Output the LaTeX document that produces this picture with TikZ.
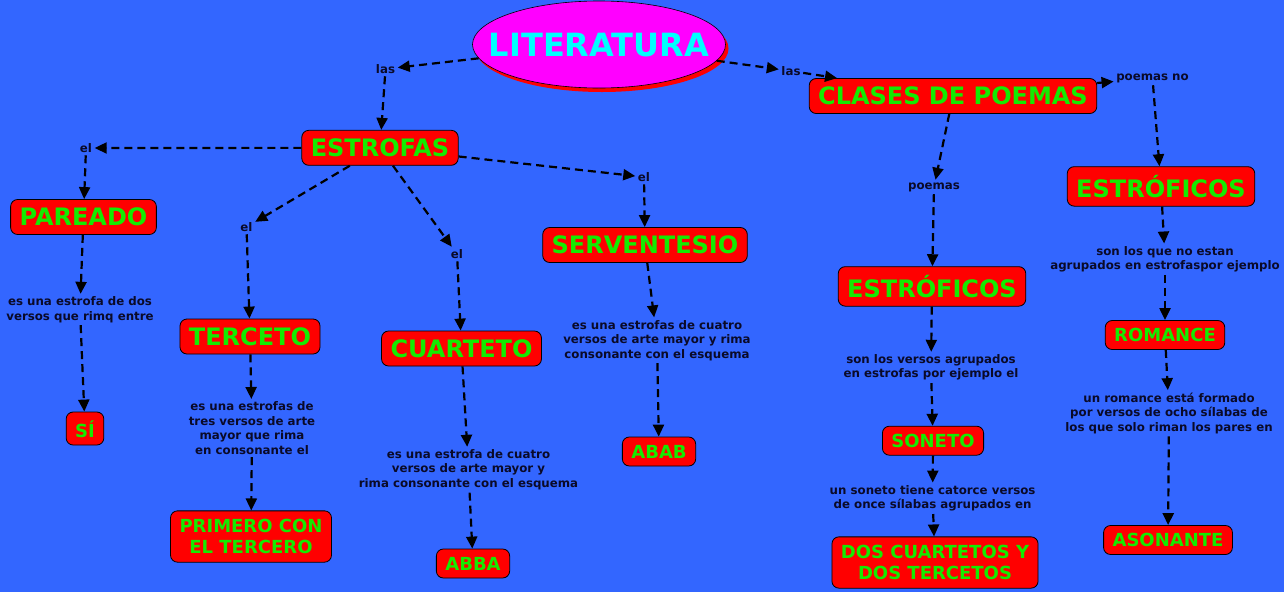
\documentclass[tikz,border=0pt]{standalone}
\usepackage{fontspec}
\setmainfont{DejaVu Sans}
\usetikzlibrary{arrows.meta,shapes.geometric,shadows}
\definecolor{mapblue}{RGB}{51,102,255}
\definecolor{boxred}{RGB}{255,0,0}
\definecolor{boxgreen}{RGB}{20,235,0}
\definecolor{titlecyan}{RGB}{0,255,255}
\definecolor{titlemagenta}{RGB}{255,0,255}
\definecolor{labelink}{RGB}{10,10,40}
\tikzset{
  redbox/.style={draw=black, line width=.8pt, fill=boxred, rounded corners=7pt, text=boxgreen, inner xsep=9pt},
  bigbox/.style={redbox, font=\fontsize{24pt}{28pt}\selectfont\bfseries, text height=17.5pt, text depth=0pt, inner ysep=8.75pt},
  smallbox/.style={redbox, font=\fontsize{18pt}{21.7pt}\selectfont\bfseries, text height=13pt, text depth=0pt, inner ysep=8pt},
  twobox/.style={redbox, font=\fontsize{18pt}{21.7pt}\selectfont\bfseries, align=center, inner ysep=8pt},
  lbl/.style={text=labelink, font=\fontsize{11.8pt}{14.5pt}\selectfont\bfseries, align=center, inner sep=2.5pt},
  conn/.style={draw=black, line width=2.2pt, dash pattern=on 8pt off 5pt, -{Triangle[length=12pt,width=11pt]}}
}
\begin{document}
\begin{tikzpicture}[x=1pt, y=-1pt]
\fill [mapblue] (0, 0) rectangle (1284, 592);
\useasboundingbox (0, 0) rectangle (1284, 592);

\node (lit) at (599, 44.5) [ellipse, draw=black, line width=.6pt, fill=titlemagenta, minimum width=253pt, minimum height=87pt, inner sep=0pt, general shadow={fill=boxred, shadow xshift=3pt, shadow yshift=-4pt}] {};
\node (littext) at (lit) [text=titlecyan, font=\fontsize{32pt}{36pt}\selectfont\bfseries, text height=23pt, text depth=0pt, inner sep=0pt] {LITERATURA};

\node (las1) at (385.5, 69) [lbl] {las};
\node (las2) at (791, 71) [lbl] {las};

\node (estrofas) at (380, 147.8) [bigbox] {ESTROFAS};
\node (clases) at (953, 96) [bigbox] {CLASES DE POEMAS};

\node (elA) at (86, 148) [lbl] {el};
\node (pareado) at (83.5, 217) [bigbox] {PAREADO};
\node (txtA) at (80, 309.5) [lbl] {es una estrofa de dos\\versos que rimq entre};
\node (si) at (85, 428.5) [smallbox, text height=17pt] {SÍ};

\node (elB) at (246.5, 227) [lbl] {el};
\node (terceto) at (250, 336.5) [bigbox] {TERCETO};
\node (txtB) at (252, 428) [lbl] {es una estrofas de\\tres versos de arte\\mayor que rima\\en consonante el};
\node (primero) at (251, 536.5) [twobox] {PRIMERO CON\\EL TERCERO};

\node (elC) at (457, 254) [lbl] {el};
\node (cuarteto) at (461.5, 348.5) [bigbox] {CUARTETO};
\node (txtC) at (468.5, 469.7) [lbl] {es una estrofa de cuatro\\versos de arte mayor y\\rima consonante con el esquema};
\node (abba) at (473, 563.5) [smallbox] {ABBA};

\node (elD) at (644, 177) [lbl] {el};
\node (servent) at (645, 245) [bigbox] {SERVENTESIO};
\node (txtD) at (657, 340.3) [lbl] {es una estrofas de cuatro\\versos de arte mayor y rima\\consonante con el esquema};
\node (abab) at (659, 451.5) [smallbox] {ABAB};

\node (poemas) at (934, 187) [lbl] {poemas};
\node (estrof1) at (932, 286.4) [bigbox, text height=22pt] {ESTRÓFICOS};
\node (txtG) at (931, 367.5) [lbl] {son los versos agrupados\\en estrofas por ejemplo el};
\node (soneto) at (933, 440.7) [smallbox] {SONETO};
\node (txtH) at (932.6, 498.3) [lbl] {un soneto tiene catorce versos\\de once sílabas agrupados en};
\node (dos) at (935, 562.5) [twobox] {DOS CUARTETOS Y\\DOS TERCETOS};

\node (poemasno) at (1152.5, 78) [lbl] {poemas no};
\node (estrof2) at (1161, 186.4) [bigbox, text height=22pt] {ESTRÓFICOS};
\node (txtE) at (1165, 259.2) [lbl] {son los que no estan\\agrupados en estrofaspor ejemplo};
\node (romance) at (1165, 335) [smallbox] {ROMANCE};
\node (txtF) at (1169, 413.3) [lbl] {un romance está formado\\por versos de ocho sílabas de\\los que solo riman los pares en};
\node (asonante) at (1168, 540) [smallbox] {ASONANTE};

\draw [conn] (lit) -- (las1);
\draw [conn] (las1) -- (estrofas);
\draw [conn] (lit) -- (las2);
\draw [conn] (las2) -- (clases);

\draw [conn] (estrofas) -- (elA);
\draw [conn] (elA) -- (pareado);
\draw [conn] (pareado) -- (txtA);
\draw [conn] (txtA) -- (si);

\draw [conn] (estrofas) -- (elB);
\draw [conn] (elB) -- (terceto);
\draw [conn] (terceto) -- (txtB);
\draw [conn] (txtB) -- (primero);

\draw [conn] (estrofas) -- (elC);
\draw [conn] (elC) -- (cuarteto);
\draw [conn] (cuarteto) -- (txtC);
\draw [conn] (txtC) -- (abba);

\draw [conn] (estrofas) -- (elD);
\draw [conn] (elD) -- (servent);
\draw [conn] (servent) -- (txtD);
\draw [conn] (txtD) -- (abab);

\draw [conn] (clases) -- (poemas);
\draw [conn] (poemas) -- (estrof1);
\draw [conn] (estrof1) -- (txtG);
\draw [conn] (txtG) -- (soneto);
\draw [conn] (soneto) -- (txtH);
\draw [conn] (txtH) -- (dos);

\draw [conn] (clases) -- (poemasno);
\draw [conn] (poemasno) -- (estrof2);
\draw [conn] (estrof2) -- (txtE);
\draw [conn] (txtE) -- (romance);
\draw [conn] (romance) -- (txtF);
\draw [conn] (txtF) -- (asonante);
\end{tikzpicture}
\end{document}
